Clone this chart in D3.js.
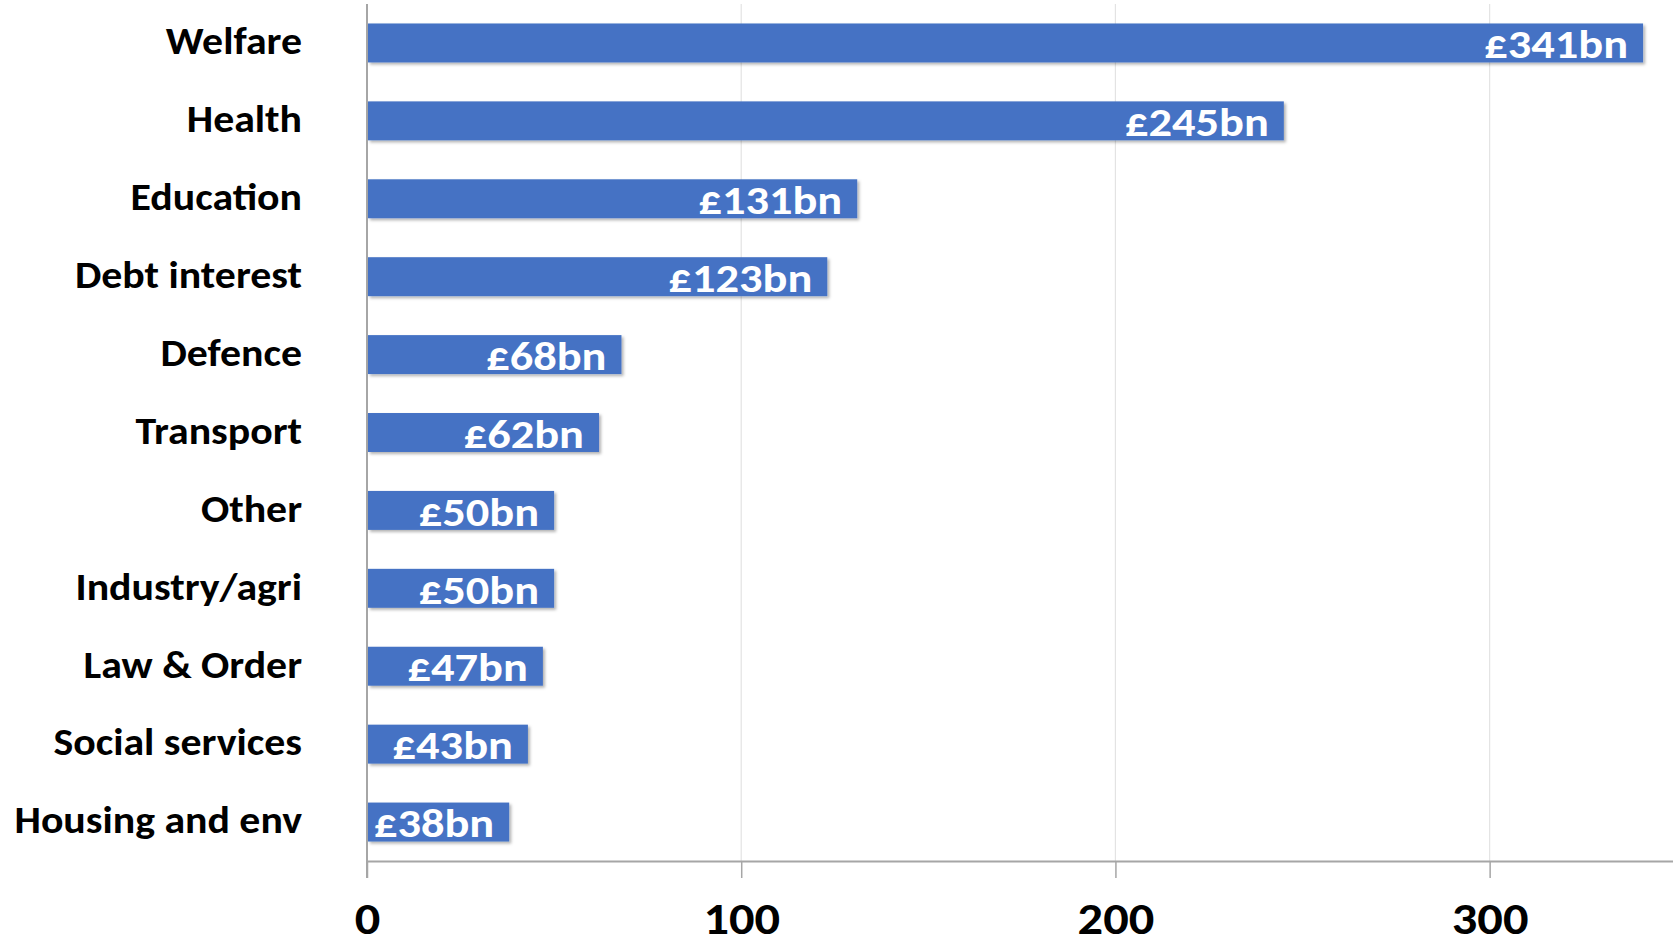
<!DOCTYPE html>
<html>
<head>
<meta charset="utf-8">
<script src="https://cdn.jsdelivr.net/npm/d3@7"></script>
<style>
  html, body { margin: 0; padding: 0; background: #fff; }
  svg { display: block; }
</style>
</head>
<body>
<div class="spending_chart"></div>
<script>
// spending by category, £bn
var categories = ["Welfare", "Health", "Education", "Debt interest", "Defence", "Transport",
  "Other", "Industry/agri", "Law & Order", "Social services", "Housing and env"];
var values = [341, 245, 131, 123, 68, 62, 50, 50, 47, 43, 38];
var xTicks = [0, 100, 200, 300];

var font = "Carlito, Calibri, Lato, sans-serif";

var margin = {top: 4, right: 0, bottom: 84, left: 367},
  width = 1673 - margin.left - margin.right,
  height = 945 - margin.top - margin.bottom;

var svg = d3.select(".spending_chart").append("svg")
  .attr("width", width + margin.left + margin.right)
  .attr("height", height + margin.top + margin.bottom);

var defs = svg.append("defs");
var shadow = defs.append("filter").attr("id", "shadow")
  .attr("x", "-5%").attr("y", "-20%").attr("width", "110%").attr("height", "150%");
shadow.append("feDropShadow")
  .attr("dx", 2).attr("dy", 2).attr("stdDeviation", 1.5)
  .attr("flood-color", "#000").attr("flood-opacity", 0.3);

var g = svg.append("g").attr("transform", "translate(" + margin.left + "," + margin.top + ")");

var x = d3.scaleLinear().domain([0, 349]).range([0, width]);
var y = d3.scaleBand().domain(categories).range([0, height])
  .paddingInner(0.5).paddingOuter(0.25);

// gridlines
g.append("g")
    .attr("class", "grid")
  .selectAll("line")
  .data(xTicks.filter(function(d) { return d > 0; }))
  .enter().append("line")
    .attr("x1", function(d) { return x(d); })
    .attr("x2", function(d) { return x(d); })
    .attr("y1", 0)
    .attr("y2", height)
    .style("stroke", "#e3e3e3")
    .style("stroke-width", 1.2);

// x axis
var xAxis = g.append("g")
    .attr("class", "axis axis--x")
    .attr("transform", "translate(0," + height + ")")
    .call(d3.axisBottom(x).tickValues(xTicks).tickSize(17).tickSizeOuter(0).tickFormat(d3.format("d")));

xAxis.select(".domain").style("stroke", "#a6a6a6").style("stroke-width", 2);
xAxis.selectAll(".tick line").style("stroke", "#a6a6a6").style("stroke-width", 1.5);
xAxis.selectAll(".tick text")
    .attr("y", null)
    .attr("dy", null)
    .attr("transform", "translate(0,73) scale(1.12,1)")
    .style("font-family", font)
    .style("font-weight", "bold")
    .style("font-size", "45px")
    .style("fill", "#000");

// y axis line
g.append("line")
    .attr("x1", 0).attr("x2", 0)
    .attr("y1", 0).attr("y2", height + 17)
    .style("stroke", "#a6a6a6")
    .style("stroke-width", 2);

// category labels
g.append("g")
  .selectAll("text")
  .data(categories)
  .enter().append("text")
    .attr("transform", function(d) {
      return "translate(-65," + (y(d) + y.bandwidth() / 2 - 2) + ") scale(1.1,1)";
    })
    .attr("dy", "0.35em")
    .attr("text-anchor", "end")
    .style("font-family", font)
    .style("font-weight", "bold")
    .style("font-size", "38px")
    .style("fill", "#000")
    .text(function(d) { return d; });

var bar = g.selectAll(".bar")
  .data(values)
  .enter().append("g")
    .attr("class", "bar");

bar.append("rect")
    .attr("x", x(0) + 1)
    .attr("y", function(d, i) { return y(categories[i]); })
    .attr("width", function(d) { return x(d) - x(0) - 1; })
    .attr("height", y.bandwidth())
    .attr("filter", "url(#shadow)")
    .style("fill", "#4472C4");

bar.append("text")
    .attr("transform", function(d, i) {
      return "translate(" + (x(d) - 15) + "," + (y(categories[i]) + y.bandwidth() / 2) + ") scale(1.16,1)";
    })
    .attr("dy", "0.38em")
    .attr("text-anchor", "end")
    .style("font-family", font)
    .style("font-weight", "bold")
    .style("font-size", "40px")
    .style("fill", "#fff")
    .text(function(d) { return "£" + d + "bn"; });
</script>
</body>
</html>
